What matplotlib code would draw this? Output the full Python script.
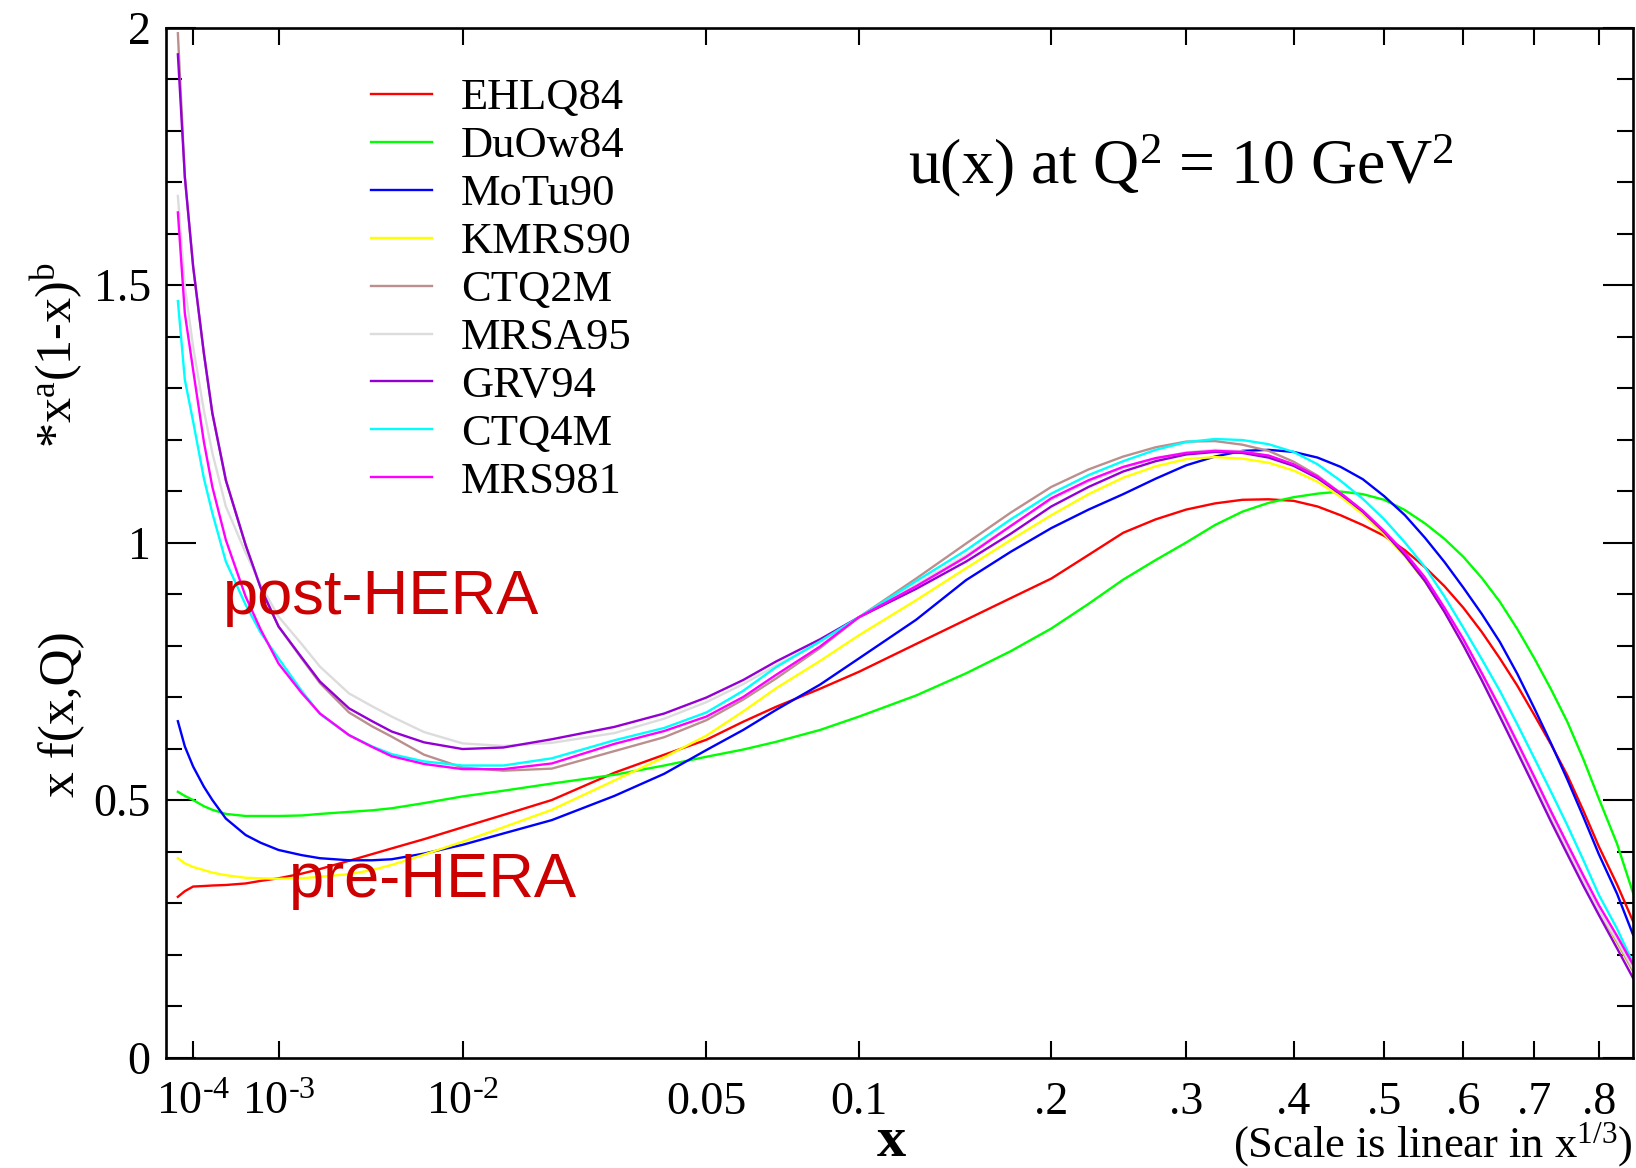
import numpy as np
import matplotlib
matplotlib.use("Agg")
import matplotlib.pyplot as plt
from matplotlib.ticker import FixedLocator, NullLocator, MultipleLocator

plt.rcParams['font.family'] = ['Liberation Serif', 'DejaVu Serif']
plt.rcParams['mathtext.fontset'] = 'custom'
plt.rcParams['mathtext.rm'] = 'Liberation Serif'
plt.rcParams['mathtext.it'] = 'Liberation Serif:italic'
plt.rcParams['mathtext.bf'] = 'Liberation Serif:bold'

# ---------------- data ----------------
x_vals = [5e-5, 7e-5, 1e-4, 1.5e-4, 2e-4, 3e-4, 5e-4, 7e-4, 1e-3, 1.5e-3, 2e-3, 3e-3,
          4e-3, 5e-3, 7e-3, 0.01, 0.014, 0.02, 0.03, 0.04, 0.05, 0.06, 0.07, 0.085,
          0.1, 0.125, 0.15, 0.175, 0.2, 0.225, 0.25, 0.275, 0.3, 0.325, 0.35, 0.375,
          0.4, 0.425, 0.45, 0.475, 0.5, 0.525, 0.55, 0.575, 0.6, 0.625, 0.65, 0.675,
          0.7, 0.725, 0.75, 0.775, 0.8, 0.83, 0.857]

ehlq84 = [0.312, 0.323, 0.332, 0.333, 0.334, 0.335, 0.338, 0.343, 0.348, 0.357, 0.366, 0.382,
          0.395, 0.406, 0.424, 0.447, 0.471, 0.500, 0.553, 0.588, 0.617, 0.652, 0.681, 0.716,
          0.749, 0.803, 0.850, 0.892, 0.930, 0.976, 1.019, 1.045, 1.064, 1.076, 1.083, 1.084,
          1.081, 1.070, 1.053, 1.034, 1.013, 0.985, 0.952, 0.915, 0.873, 0.826, 0.775, 0.722,
          0.665, 0.608, 0.548, 0.480, 0.410, 0.336, 0.264]
duow84 = [0.516, 0.508, 0.500, 0.488, 0.481, 0.473, 0.469, 0.469, 0.469, 0.470, 0.473, 0.477,
          0.480, 0.484, 0.494, 0.507, 0.518, 0.532, 0.549, 0.567, 0.584, 0.598, 0.613, 0.636,
          0.662, 0.703, 0.746, 0.789, 0.833, 0.881, 0.928, 0.966, 1.000, 1.034, 1.060, 1.077,
          1.088, 1.095, 1.099, 1.094, 1.083, 1.063, 1.037, 1.007, 0.972, 0.931, 0.885, 0.832,
          0.775, 0.715, 0.652, 0.580, 0.503, 0.415, 0.319]
motu90 = [0.653, 0.604, 0.565, 0.526, 0.500, 0.464, 0.432, 0.417, 0.403, 0.393, 0.387, 0.383,
          0.383, 0.385, 0.396, 0.413, 0.435, 0.461, 0.508, 0.551, 0.597, 0.636, 0.675, 0.724,
          0.775, 0.850, 0.927, 0.982, 1.028, 1.064, 1.094, 1.124, 1.150, 1.167, 1.178, 1.180,
          1.176, 1.165, 1.147, 1.123, 1.090, 1.053, 1.009, 0.962, 0.912, 0.861, 0.807, 0.745,
          0.678, 0.610, 0.540, 0.468, 0.395, 0.318, 0.238]
kmrs90 = [0.387, 0.377, 0.370, 0.364, 0.359, 0.354, 0.349, 0.348, 0.347, 0.348, 0.351, 0.356,
          0.364, 0.374, 0.394, 0.419, 0.447, 0.481, 0.538, 0.583, 0.625, 0.672, 0.717, 0.770,
          0.820, 0.888, 0.950, 1.005, 1.053, 1.094, 1.126, 1.148, 1.162, 1.166, 1.163, 1.155,
          1.140, 1.118, 1.089, 1.055, 1.016, 0.973, 0.924, 0.865, 0.800, 0.733, 0.665, 0.597,
          0.529, 0.465, 0.402, 0.341, 0.283, 0.222, 0.167]
ctq2m = [1.989, 1.710, 1.536, 1.368, 1.251, 1.121, 0.995, 0.912, 0.837, 0.775, 0.727, 0.670,
         0.643, 0.623, 0.588, 0.563, 0.557, 0.561, 0.595, 0.622, 0.655, 0.695, 0.736, 0.795,
         0.855, 0.930, 0.998, 1.058, 1.108, 1.142, 1.167, 1.185, 1.196, 1.197, 1.190, 1.178,
         1.157, 1.130, 1.096, 1.061, 1.022, 0.976, 0.925, 0.868, 0.805, 0.738, 0.670, 0.602,
         0.535, 0.468, 0.405, 0.343, 0.285, 0.225, 0.168]
mrsa95 = [1.673, 1.497, 1.380, 1.257, 1.174, 1.070, 0.980, 0.918, 0.856, 0.803, 0.759, 0.707,
          0.682, 0.662, 0.632, 0.610, 0.605, 0.611, 0.630, 0.658, 0.690, 0.725, 0.761, 0.806,
          0.855, 0.918, 0.975, 1.033, 1.083, 1.118, 1.145, 1.163, 1.175, 1.180, 1.177, 1.168,
          1.152, 1.127, 1.096, 1.061, 1.022, 0.977, 0.928, 0.869, 0.805, 0.738, 0.670, 0.602,
          0.535, 0.468, 0.405, 0.343, 0.285, 0.228, 0.172]
grv94 = [1.948, 1.710, 1.536, 1.368, 1.251, 1.121, 0.995, 0.912, 0.837, 0.777, 0.730, 0.678,
         0.653, 0.633, 0.612, 0.599, 0.602, 0.618, 0.642, 0.668, 0.699, 0.733, 0.769, 0.812,
         0.855, 0.910, 0.963, 1.017, 1.070, 1.108, 1.138, 1.158, 1.171, 1.176, 1.174, 1.165,
         1.149, 1.125, 1.094, 1.060, 1.020, 0.975, 0.925, 0.865, 0.800, 0.732, 0.662, 0.593,
         0.525, 0.458, 0.395, 0.334, 0.277, 0.212, 0.154]
ctq4m = [1.469, 1.316, 1.235, 1.125, 1.057, 0.963, 0.879, 0.825, 0.775, 0.712, 0.667, 0.626,
         0.604, 0.589, 0.575, 0.567, 0.567, 0.581, 0.616, 0.640, 0.670, 0.712, 0.758, 0.808,
         0.855, 0.925, 0.985, 1.045, 1.095, 1.131, 1.158, 1.180, 1.195, 1.201, 1.199, 1.191,
         1.176, 1.152, 1.120, 1.085, 1.045, 1.000, 0.952, 0.895, 0.834, 0.773, 0.712, 0.647,
         0.581, 0.516, 0.451, 0.384, 0.316, 0.250, 0.183]
mrs981 = [1.641, 1.445, 1.335, 1.196, 1.108, 1.005, 0.895, 0.831, 0.765, 0.708, 0.668, 0.626,
          0.603, 0.585, 0.570, 0.560, 0.560, 0.571, 0.609, 0.634, 0.662, 0.700, 0.743, 0.798,
          0.855, 0.915, 0.972, 1.032, 1.086, 1.121, 1.147, 1.164, 1.174, 1.178, 1.176, 1.169,
          1.152, 1.128, 1.096, 1.062, 1.022, 0.980, 0.932, 0.873, 0.812, 0.746, 0.680, 0.612,
          0.545, 0.478, 0.415, 0.354, 0.296, 0.236, 0.180]

series_names = ["EHLQ84", "DuOw84", "MoTu90", "KMRS90", "CTQ2M", "MRSA95", "GRV94", "CTQ4M", "MRS981"]
series_values = [ehlq84, duow84, motu90, kmrs90, ctq2m, mrsa95, grv94, ctq4m, mrs981]
series_colors = ["#ff0000", "#00ff00", "#0000ff", "#ffff00", "#bc8f8f",
                 "#dcdcdc", "#9400d3", "#00ffff", "#ff00ff"]

xtick_vals = [1e-4, 1e-3, 1e-2, 0.05, 0.1, 0.2, 0.3, 0.4, 0.5, 0.6, 0.7, 0.8]
xtick_labels = [r"10$^{\text{-4}}$", r"10$^{\text{-3}}$", r"10$^{\text{-2}}$", "0.05", "0.1",
                ".2", ".3", ".4", ".5", ".6", ".7", ".8"]
ytick_vals = [0, 0.5, 1, 1.5, 2]
ytick_labels = ["0", "0.5", "1", "1.5", "2"]

# ---------------- figure ----------------
fig = plt.figure(figsize=(16.36, 11.68), dpi=100)
ax = fig.add_axes([0.10147, 0.0946, 0.8967, 0.8818])
ax.set_xscale('function', functions=(np.cbrt, lambda t: np.power(t, 3)))

handles = []
for name, vals, col in zip(series_names, series_values, series_colors):
    ln, = ax.plot(x_vals, vals, color=col, lw=1.7, label=name, solid_joinstyle='round')
    handles.append(ln)

ax.set_xlim(2.54e-5, 0.8568)
ax.set_ylim(0, 2)

ax.xaxis.set_major_locator(FixedLocator(xtick_vals))
ax.set_xticklabels(xtick_labels)
ax.xaxis.set_minor_locator(NullLocator())
ax.yaxis.set_major_locator(FixedLocator(ytick_vals))
ax.set_yticklabels(ytick_labels)
ax.yaxis.set_minor_locator(MultipleLocator(0.1))

ax.tick_params(axis='x', which='major', direction='in', length=12.5, width=1.5,
               top=True, labelsize=33, pad=17)
ax.tick_params(axis='y', which='major', direction='in', length=21.5, width=1.5,
               right=True, labelsize=33, pad=11)
ax.tick_params(axis='y', which='minor', direction='in', length=11.5, width=1.5, right=True)
for sp in ax.spines.values():
    sp.set_linewidth(1.9)

leg = ax.legend(handles=handles, loc='upper left', bbox_to_anchor=(0.1397, 0.9507),
                frameon=False, fontsize=32, handlelength=1.37, handletextpad=0.65,
                labelspacing=0.176, borderpad=0, borderaxespad=0)

ax.text(0.506, 0.849, r"u(x) at Q$^{2}$ = 10 GeV$^{2}$", transform=ax.transAxes,
        fontsize=46, ha='left', va='baseline')
ax.text(0.0387, 0.431, "post-HERA", transform=ax.transAxes, fontsize=45.5,
        family='Liberation Sans', color='#cc0000', ha='left', va='baseline')
ax.text(0.084, 0.156, "pre-HERA", transform=ax.transAxes, fontsize=45.5,
        family='Liberation Sans', color='#cc0000', ha='left', va='baseline')

fig.text(0.545, 0.01, "x", fontsize=42, fontweight='bold', ha='center', va='baseline')
fig.text(0.998, 0.0094, r"(Scale is linear in x$^{1/3}$)", fontsize=32,
         ha='right', va='baseline')
fig.text(0.0379, 0.3887, "x f(x,Q)", fontsize=37, rotation=90, ha='center', va='center')
fig.text(0.0345, 0.696, r"*x$^{\mathrm{a}}$(1-x)$^{\mathrm{b}}$", fontsize=36,
         rotation=90, ha='center', va='center')

fig.savefig("out.png", dpi=100)
